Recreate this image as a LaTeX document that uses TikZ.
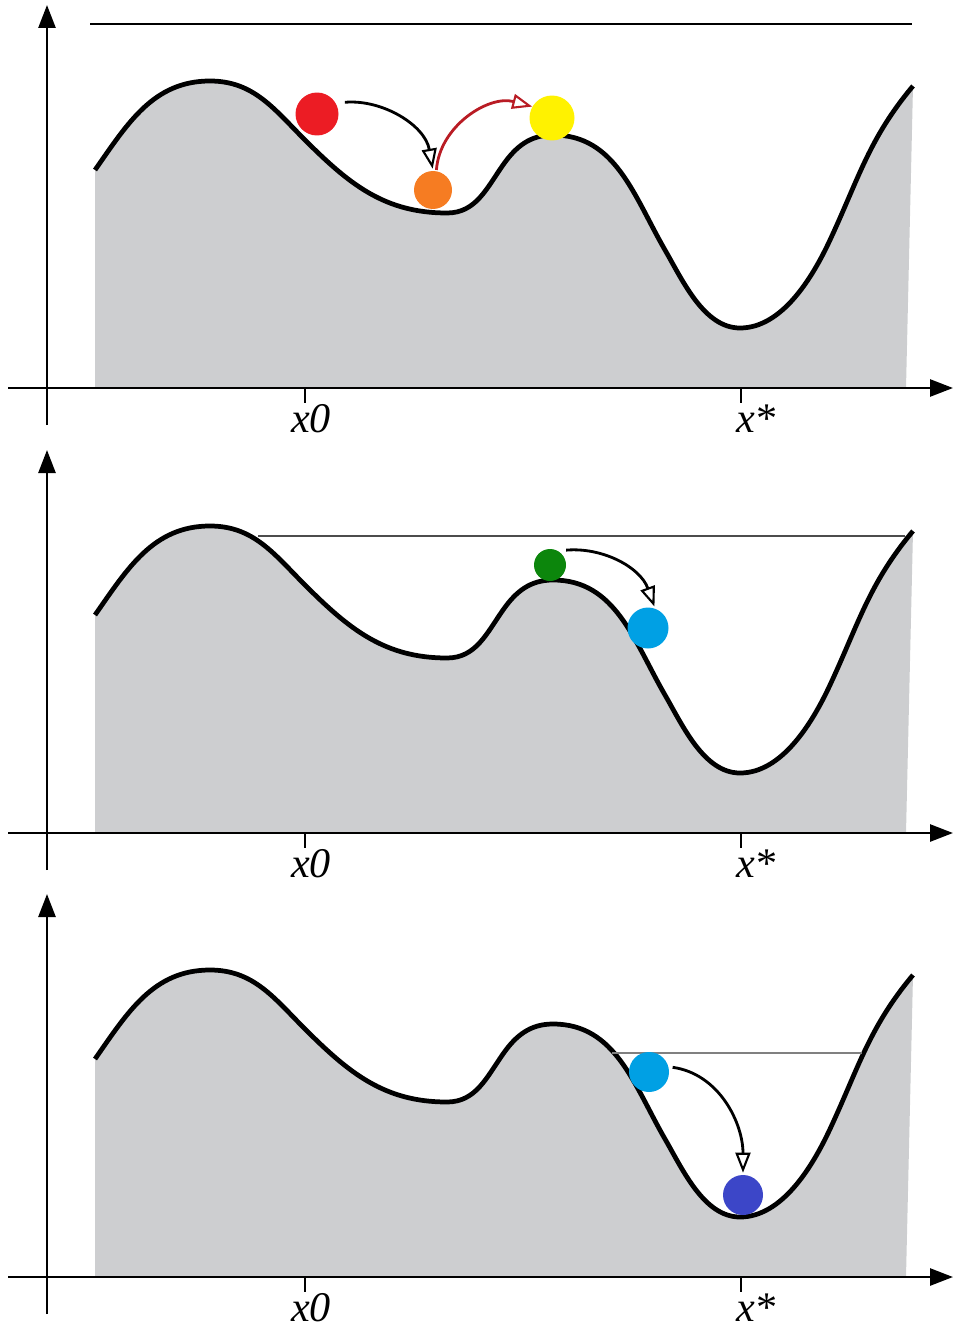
\documentclass[tikz,border=0pt]{standalone}
\usepackage{fontspec}
\setmainfont{Liberation Serif}
\usetikzlibrary{arrows.meta}
\definecolor{landgray}{RGB}{205,206,208}
\definecolor{ballred}{RGB}{236,28,36}
\definecolor{ballorange}{RGB}{246,124,34}
\definecolor{ballyellow}{RGB}{255,242,0}
\definecolor{ballgreen}{RGB}{12,134,12}
\definecolor{balllblue}{RGB}{0,160,228}
\definecolor{balldblue}{RGB}{60,70,200}
\definecolor{arrred}{RGB}{185,28,36}
\tikzset{
  land/.style={fill=landgray},
  ridge/.style={line width=2.7pt, black},
  axis/.style={line width=1.5pt, -{Triangle[length=0.46cm,width=0.34cm]}},
  tick/.style={line width=1.3pt},
  level/.style={line width=0.6pt},
  ball/.style={circle, inner sep=0pt, draw=none},
  flow/.style={line width=1.6pt, -{Triangle[open,length=0.4cm,width=0.3cm,line width=1.2pt]}},
  ticklabel/.style={anchor=base, inner sep=0pt, font=\fontsize{24}{28}\selectfont\itshape}
}
\begin{document}
\begin{tikzpicture}[x=0.02cm,y=0.02cm]
\useasboundingbox (0,0) rectangle (953,-1328);
\foreach \s in {0,445,889}{
\begin{scope}[shift={(0,-\s)}]
  \fill[land] (95,-388) -- (95,-170) to[out=55,in=180] (210,-81) to[out=0,in=135] (305,-140) to[out=-45,in=180] (447,-213) to[out=0,in=235] (503,-165) to[out=55,in=180] (553,-135) to[out=0,in=120] (665,-250) to[out=-60,in=180,looseness=0.85] (740,-328) to[out=0,in=245,looseness=0.85] (830,-240) to[out=65,in=230] (913,-86) -- (906,-388) -- cycle;
  \draw[ridge] (95,-170) to[out=55,in=180] (210,-81) to[out=0,in=135] (305,-140) to[out=-45,in=180] (447,-213) to[out=0,in=235] (503,-165) to[out=55,in=180] (553,-135) to[out=0,in=120] (665,-250) to[out=-60,in=180,looseness=0.85] (740,-328) to[out=0,in=245,looseness=0.85] (830,-240) to[out=65,in=230] (913,-86);
  \coordinate (ybot-\s) at (47,-425);
  \coordinate (ytop-\s) at (47,-5);
  \coordinate (xl-\s) at (8,-388);
  \coordinate (xr-\s) at (953,-388);
  \draw[axis] (ybot-\s) -- (ytop-\s);
  \draw[axis] (xl-\s) -- (xr-\s);
  \coordinate (t0a-\s) at (305,-388);
  \coordinate (t0b-\s) at (305,-403);
  \coordinate (tsa-\s) at (741,-388);
  \coordinate (tsb-\s) at (741,-403);
  \draw[tick] (t0a-\s) -- (t0b-\s);
  \draw[tick] (tsa-\s) -- (tsb-\s);
  \node[ticklabel] (lx0-\s) at (311,-432) {x0};
  \node[ticklabel] (lxs-\s) at (756,-432) {x*};
\end{scope}
}
% level lines
\coordinate (l1a) at (90,-24);   \coordinate (l1b) at (912,-24);
\coordinate (l2a) at (258,-536); \coordinate (l2b) at (905,-536);
\coordinate (l3a) at (612,-1053); \coordinate (l3b) at (862,-1053);
\draw[level, black] (l1a) -- (l1b);
\draw[level, black!70] (l2a) -- (l2b);
\draw[level, black!50] (l3a) -- (l3b);
% panel 1 balls
\node[ball, fill=ballred, minimum size=0.86cm] (red) at (317,-114) {};
\node[ball, fill=ballorange, minimum size=0.76cm] (orange) at (433,-190) {};
\node[ball, fill=ballyellow, minimum size=0.9cm] (yellow) at (552,-118) {};
\draw[flow, shorten <=0.18cm, shorten >=0.04cm] (red.30) to[out=5,in=100] (orange.north);
\draw[flow, draw=arrred, shorten <=0.02cm] (orange.80) to[out=86,in=165] (yellow.150);
% panel 2 balls
\node[ball, fill=ballgreen, minimum size=0.64cm] (green) at (550,-565) {};
\node[ball, fill=balllblue, minimum size=0.82cm] (blueA) at (648,-628) {};
\draw[flow, shorten <=0.16cm, shorten >=0.04cm] (green.60) to[out=5,in=110] (blueA.70);
% panel 3 balls
\node[ball, fill=balllblue, minimum size=0.8cm] (blueB) at (649,-1072) {};
\node[ball, fill=balldblue, minimum size=0.8cm] (dblue) at (743,-1195) {};
\draw[flow, shorten <=0.08cm, shorten >=0.04cm] (blueB.15) to[out=-8,in=90] (dblue.north);
\end{tikzpicture}
\end{document}
